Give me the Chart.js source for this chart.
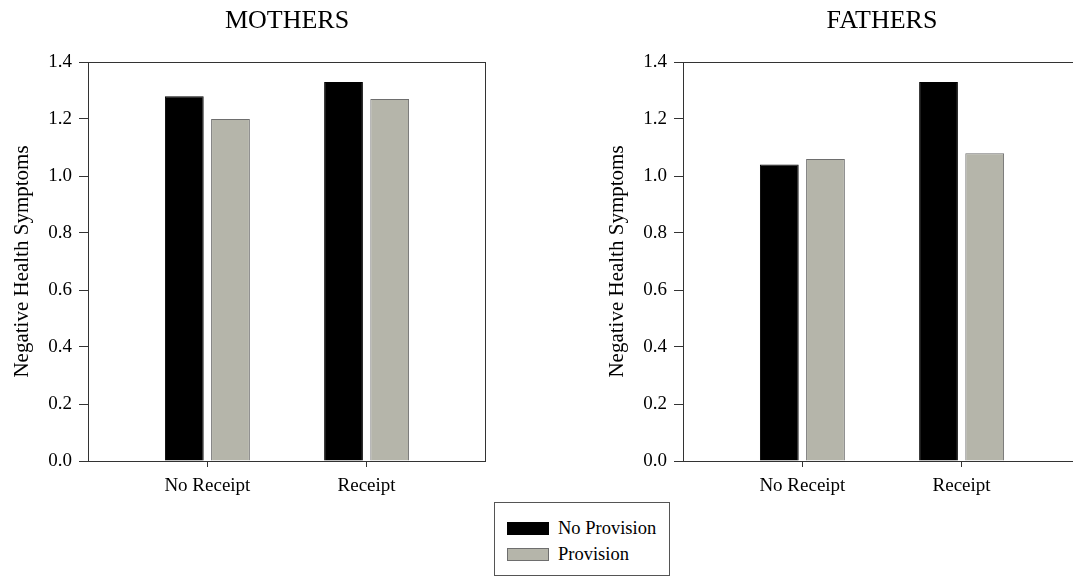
<!DOCTYPE html>
<html>
<head>
<meta charset="utf-8">
<script src="https://cdn.jsdelivr.net/npm/chart.js@4/dist/chart.umd.min.js"></script>
<style>
  html, body { margin: 0; padding: 0; background: #fff; overflow: hidden; width: 1073px; height: 576px; }
  #wrap { position: relative; width: 1073px; height: 576px; overflow: hidden; }
  canvas { position: absolute; top: 0; }
  #legend { position: absolute; left: 494px; top: 502px; width: 176px; height: 74px; box-sizing: border-box;
            border: 1px solid #555; font-family: 'Liberation Serif', 'Times New Roman', serif; font-size: 18.5px; color: #000; }
  .row { position: absolute; left: 12px; height: 22px; display: flex; align-items: center; }
  .sw { width: 42px; height: 13px; margin-right: 9px; box-sizing: border-box; }
</style>
</head>
<body>
<div id="wrap">
  <canvas id="c1" width="500" height="500" style="left:0px"></canvas>
  <canvas id="c2" width="500" height="500" style="left:595px"></canvas>
  <div id="legend"></div>
</div>
<script>
const categories = ['No Receipt', 'Receipt'];
const seriesNames = ['No Provision', 'Provision'];
const mothersNoProvision = [1.28, 1.33];
const mothersProvision = [1.20, 1.27];
const fathersNoProvision = [1.04, 1.33];
const fathersProvision = [1.06, 1.08];
const yTicks = [0.0, 0.2, 0.4, 0.6, 0.8, 1.0, 1.2, 1.4];
const panelTitles = ['MOTHERS', 'FATHERS'];
const yAxisTitle = 'Negative Health Symptoms';

const fillColors = ['#000000', '#b5b5aa'];
const borderColors = ['#000000', '#6e6e6e'];
const FONT = "'Liberation Serif', 'Times New Roman', serif";

// pad category slots so the two groups sit at 30% and 70% of the plot width
const labels = ['', categories[0], '', categories[1], ''];
function pad(arr) { return [null, arr[0], null, arr[1], null]; }

const framePlugin = {
  id: 'frame',
  afterDatasetsDraw(chart) {
    const a = chart.chartArea, ctx = chart.ctx;
    ctx.save();
    ctx.strokeStyle = '#333';
    ctx.lineWidth = 1;
    ctx.strokeRect(Math.round(a.left) + 0.5, Math.round(a.top) + 0.5,
                   Math.round(a.right - a.left) - 1, Math.round(a.bottom - a.top));
    ctx.restore();
  }
};

// panel title centred over the plot area
const panelTitlePlugin = {
  id: 'panelTitle',
  afterDraw(chart, args, opts) {
    const a = chart.chartArea, ctx = chart.ctx;
    ctx.save();
    ctx.fillStyle = '#000';
    ctx.font = 'normal 26px ' + FONT;
    ctx.textAlign = 'center';
    ctx.textBaseline = 'middle';
    ctx.fillText(opts.text, (a.left + a.right) / 2, 21);
    ctx.restore();
  }
};

function makeChart(id, title, s1, s2) {
  return new Chart(document.getElementById(id), {
    type: 'bar',
    data: {
      labels: labels,
      datasets: [
        { label: seriesNames[0], data: pad(s1), backgroundColor: fillColors[0], borderColor: borderColors[0], borderWidth: 1 },
        { label: seriesNames[1], data: pad(s2), backgroundColor: fillColors[1], borderColor: borderColors[1], borderWidth: 1 }
      ]
    },
    options: {
      responsive: false,
      animation: false,
      devicePixelRatio: 1,
      categoryPercentage: 1.16,
      barPercentage: 0.84,
      layout: { padding: { left: 0, right: 14, top: 62, bottom: 0 } },
      plugins: {
        legend: { display: false },
        tooltip: { enabled: false },
        title: { display: false },
        panelTitle: { text: title }
      },
      scales: {
        x: {
          type: 'category',
          offset: true,
          border: { display: false },
          grid: {
            offset: false,
            drawOnChartArea: false,
            tickLength: 6,
            color: (ctx) => (ctx.tick && ctx.tick.label) ? '#333' : 'rgba(0,0,0,0)'
          },
          ticks: { color: '#000', font: { family: FONT, size: 19 }, padding: 8, autoSkip: false, maxRotation: 0 },
          afterFit(scale) { scale.height = 39; }
        },
        y: {
          min: 0, max: 1.4,
          border: { display: false },
          grid: { drawOnChartArea: false, tickLength: 9, color: '#333' },
          afterBuildTicks(scale) { scale.ticks = yTicks.map(v => ({ value: v })); },
          ticks: { color: '#000', font: { family: FONT, size: 19 }, padding: 7,
                   callback: (v) => Number(v).toFixed(1) },
          title: { display: true, text: yAxisTitle, color: '#000',
                   font: { family: FONT, size: 21, weight: 'normal' }, padding: { top: 10, bottom: 0 } },
          afterFit(scale) { scale.width = 88; }
        }
      }
    },
    plugins: [framePlugin, panelTitlePlugin]
  });
}

makeChart('c1', panelTitles[0], mothersNoProvision, mothersProvision);
makeChart('c2', panelTitles[1], fathersNoProvision, fathersProvision);

// legend
const leg = document.getElementById('legend');
const rowTops = [14, 40];
seriesNames.forEach((name, i) => {
  const row = document.createElement('div');
  row.className = 'row';
  row.style.top = rowTops[i] + 'px';
  const sw = document.createElement('div');
  sw.className = 'sw';
  sw.style.background = fillColors[i];
  sw.style.border = '1px solid ' + borderColors[i];
  const tx = document.createElement('span');
  tx.textContent = name;
  row.appendChild(sw); row.appendChild(tx);
  leg.appendChild(row);
});
</script>
</body>
</html>
